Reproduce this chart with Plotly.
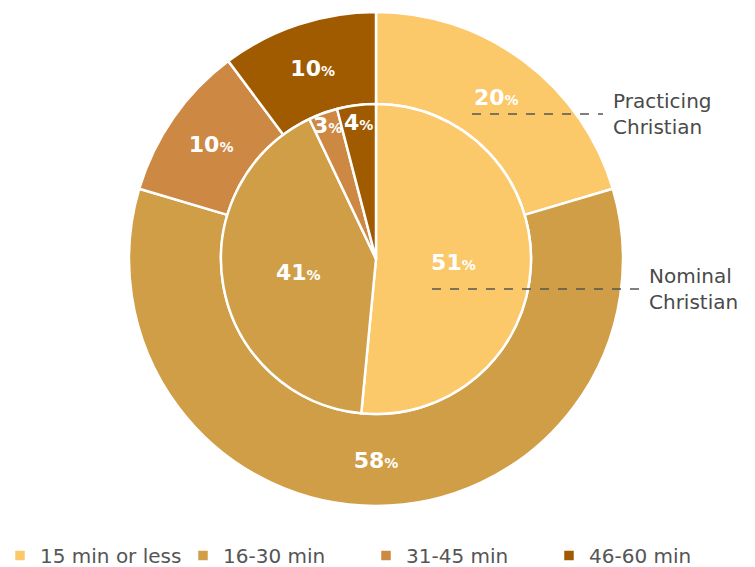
import plotly.graph_objects as go

categories = ["15 min or less", "16-30 min", "31-45 min", "46-60 min"]
practicing = [20, 58, 10, 10]
nominal = [51, 41, 3, 4]
series_names = ["Practicing<br>Christian", "Nominal<br>Christian"]
colors = ["#FBC86A", "#CF9E47", "#CD8843", "#A05A00"]

W, H = 755, 567
FONT = "DejaVu Sans"
tmpl = "%{value}<span style='font-size:14px'>%</span>"

def dom(cx, cy, r):
    return dict(x=[(cx - r) / W, (cx + r) / W], y=[(H - cy - r) / H, (H - cy + r) / H])

fig = go.Figure()
fig.add_trace(go.Pie(
    labels=categories, values=practicing, name="Practicing Christian",
    hole=155 / 247, sort=False, direction="clockwise", rotation=0,
    domain=dom(376, 259, 247),
    marker=dict(colors=colors, line=dict(color="white", width=2.5)),
    texttemplate=tmpl, textposition="inside", insidetextorientation="horizontal",
    textfont=dict(color="white", size=22, family=FONT, weight="bold"),
    hoverinfo="label+value", showlegend=True,
))
fig.add_trace(go.Pie(
    labels=categories, values=nominal, name="Nominal Christian",
    sort=False, direction="clockwise", rotation=0,
    domain=dom(376, 259, 155),
    marker=dict(colors=colors, line=dict(color="white", width=2.5)),
    texttemplate=tmpl, textposition="inside", insidetextorientation="horizontal",
    textfont=dict(color="white", size=22, family=FONT, weight="bold"),
    hoverinfo="label+value", showlegend=False,
))

# series labels with dashed leader lines
fig.add_shape(type="line", xref="paper", yref="paper",
              x0=472 / W, x1=603 / W, y0=(H - 114) / H, y1=(H - 114) / H,
              line=dict(color="#555555", width=1.5, dash="dash"))
fig.add_shape(type="line", xref="paper", yref="paper",
              x0=432 / W, x1=640 / W, y0=(H - 289) / H, y1=(H - 289) / H,
              line=dict(color="#555555", width=1.5, dash="dash"))
fig.add_annotation(text=series_names[0], xref="paper", yref="paper",
                   x=611 / W, y=(H - 114) / H, xanchor="left", yanchor="middle",
                   showarrow=False, align="left",
                   font=dict(size=20, color="#4a4a4a", family=FONT))
fig.add_annotation(text=series_names[1], xref="paper", yref="paper",
                   x=647 / W, y=(H - 289) / H, xanchor="left", yanchor="middle",
                   showarrow=False, align="left",
                   font=dict(size=20, color="#4a4a4a", family=FONT))

fig.update_layout(
    width=W, height=H,
    margin=dict(l=0, r=0, t=0, b=0, autoexpand=False),
    paper_bgcolor="white", plot_bgcolor="white",
    uniformtext=dict(minsize=22, mode="show"),
    legend=dict(orientation="h", x=0.0, y=-0.014, xanchor="left", yanchor="bottom",
                font=dict(size=20, color="#555555", family=FONT),
                entrywidth=138, entrywidthmode="pixels",
                traceorder="normal"),
    font=dict(family=FONT),
)

fig.write_html("out.html")
